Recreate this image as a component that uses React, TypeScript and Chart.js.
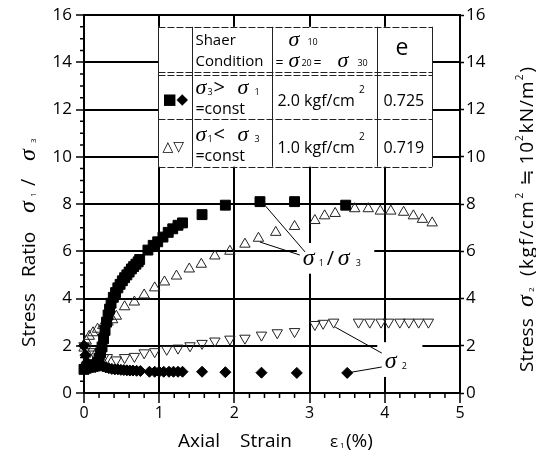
import React, { useEffect, useRef } from "react";
import { Chart, registerables } from "chart.js";

Chart.register(...registerables);

// ---- data ----
// Test 1 (sigma3 > sigma1 = const): stress ratio (filled squares)
const strainSquares = [0.0, 0.03, 0.06, 0.09, 0.12, 0.15, 0.18, 0.2, 0.22, 0.24, 0.26, 0.28, 0.3, 0.32, 0.34, 0.36, 0.39, 0.42, 0.45, 0.48, 0.51, 0.54, 0.57, 0.6, 0.63, 0.66, 0.69, 0.72, 0.74, 0.85, 0.92, 0.98, 1.05, 1.12, 1.18, 1.25, 1.31, 1.57, 1.88, 2.34, 2.8, 3.48];
const ratioSquares = [1.0, 1.05, 1.1, 1.1, 1.15, 1.2, 1.3, 1.45, 1.7, 1.95, 2.3, 2.65, 3.0, 3.3, 3.55, 3.8, 4.05, 4.25, 4.45, 4.6, 4.75, 4.88, 5.0, 5.12, 5.25, 5.35, 5.45, 5.55, 5.65, 6.05, 6.25, 6.4, 6.6, 6.8, 6.95, 7.1, 7.2, 7.55, 7.95, 8.1, 8.1, 7.95];
// Test 1: sigma2 (filled diamonds)
const strainDiamonds = [0.0, 0.02, 0.04, 0.06, 0.09, 0.12, 0.15, 0.18, 0.21, 0.25, 0.29, 0.33, 0.37, 0.41, 0.45, 0.49, 0.53, 0.57, 0.61, 0.65, 0.7, 0.75, 0.87, 0.94, 1.0, 1.06, 1.13, 1.19, 1.25, 1.31, 1.57, 1.88, 2.36, 2.83, 3.5];
const stressDiamonds = [2.0, 1.6, 1.3, 1.15, 1.1, 1.1, 1.1, 1.12, 1.15, 1.12, 1.08, 1.05, 1.02, 1.0, 1.0, 0.98, 0.97, 0.96, 0.95, 0.95, 0.94, 0.93, 0.9, 0.9, 0.9, 0.9, 0.9, 0.9, 0.9, 0.9, 0.9, 0.88, 0.86, 0.85, 0.85];
// Test 2 (sigma1 < sigma3 = const): stress ratio (open up-triangles)
const strainUp = [0.0, 0.03, 0.07, 0.12, 0.18, 0.25, 0.32, 0.38, 0.43, 0.54, 0.67, 0.8, 0.94, 1.07, 1.23, 1.4, 1.56, 1.74, 1.94, 2.14, 2.32, 2.55, 2.8, 3.07, 3.2, 3.34, 3.6, 3.78, 3.94, 4.08, 4.25, 4.38, 4.5, 4.63];
const ratioUp = [1.9, 2.2, 2.4, 2.55, 2.7, 2.85, 3.0, 3.1, 3.25, 3.65, 3.85, 4.15, 4.45, 4.7, 4.95, 5.25, 5.45, 5.8, 6.0, 6.3, 6.55, 6.8, 7.05, 7.3, 7.5, 7.6, 7.8, 7.8, 7.7, 7.7, 7.65, 7.5, 7.35, 7.2];
// Test 2: sigma2 (open down-triangles)
const strainDown = [0.0, 0.03, 0.08, 0.14, 0.2, 0.26, 0.31, 0.43, 0.54, 0.67, 0.8, 0.94, 1.1, 1.25, 1.41, 1.57, 1.74, 1.94, 2.14, 2.36, 2.57, 2.8, 3.07, 3.18, 3.32, 3.65, 3.8, 3.95, 4.05, 4.2, 4.32, 4.45, 4.58];
const stressDown = [2.0, 1.9, 1.75, 1.65, 1.55, 1.5, 1.5, 1.4, 1.5, 1.55, 1.7, 1.75, 1.85, 1.9, 2.0, 2.1, 2.2, 2.28, 2.32, 2.45, 2.55, 2.6, 2.9, 2.95, 3.0, 3.0, 3.0, 3.0, 3.0, 3.0, 3.0, 3.0, 3.0];

const xMin = 0, xMax = 5, xStep = 1;
const yMin = 0, yMax = 16, yStep = 2;

// table contents
const tableHeader = ["", "Shaer|Condition", "σ10|=σ20=σ30", "e"];
const rowSymbols = ["■◆", "△▽"];
const rowConditions = [["3", ">", "1"], ["1", "<", "3"]];
const rowStress = ["2.0 kgf/cm", "1.0 kgf/cm"];
const rowVoid = ["0.725", "0.719"];

// ---- fonts ----
const SANS = (s: number) => `${s}px "Open Sans", "DejaVu Sans", "Noto Sans CJK JP", sans-serif`;
const SIG = (s: number) => `italic ${s}px "Liberation Serif", "DejaVu Serif", serif`;
const SYMF = (s: number) => `${s}px "DejaVu Sans", sans-serif`;

type Piece = [string, string, number, number];

function drawPieces(ctx: CanvasRenderingContext2D, ox: number, oy: number, pieces: Piece[]) {
  for (const [t, f, dx, dy] of pieces) {
    ctx.font = f;
    ctx.fillText(t, ox + dx, oy + dy);
  }
}

const overlay = {
  id: "overlay",
  beforeDraw(chart: any) {
    const ctx = chart.ctx as CanvasRenderingContext2D;
    ctx.save();
    ctx.fillStyle = "#fff";
    ctx.fillRect(0, 0, chart.width, chart.height);
    ctx.restore();
  },
  beforeDatasetsDraw(chart: any) {
    const ctx = chart.ctx as CanvasRenderingContext2D;
    const xs = chart.scales.x, ys = chart.scales.y;
    const { left, bottom } = chart.chartArea;
    const X = (v: number) => xs.getPixelForValue(v);
    const Y = (v: number) => ys.getPixelForValue(v);
    ctx.save();
    // minor ticks
    ctx.strokeStyle = "#000";
    ctx.lineWidth = 1.5;
    ctx.beginPath();
    for (let i = 1; i < 32; i++) {
      if (i % 4 === 0) continue;
      const py = Y(i * 0.5);
      ctx.moveTo(left - 4, py);
      ctx.lineTo(left, py);
    }
    for (let i = 1; i < 25; i++) {
      if (i % 5 === 0) continue;
      const px = X(i * 0.2);
      ctx.moveTo(px, bottom);
      ctx.lineTo(px, bottom + 5);
    }
    ctx.stroke();

    // white boxes behind curve labels
    ctx.fillStyle = "#fff";
    const boxes = [[2.83, 3.86, 5.05, 6.35], [3.9, 4.5, 0.68, 2.15]];
    for (const [x0, x1, y0, y1] of boxes) {
      ctx.fillRect(X(x0), Y(y1), X(x1) - X(x0), Y(y0) - Y(y1));
    }
    // leader lines
    ctx.strokeStyle = "#000";
    ctx.lineWidth = 1;
    const leaders = [
      [2.38, 8.04, 2.94, 5.97],
      [2.34, 6.39, 2.87, 5.84],
      [3.34, 2.79, 3.96, 1.69],
      [3.5, 0.85, 3.96, 1.1],
    ];
    ctx.beginPath();
    for (const [a, b, c, d] of leaders) {
      ctx.moveTo(X(a), Y(b));
      ctx.lineTo(X(c), Y(d));
    }
    ctx.stroke();
    // labels
    ctx.fillStyle = "#000";
    ctx.textBaseline = "alphabetic";
    ctx.textAlign = "left";
    drawPieces(ctx, X(2.91), Y(5.42), [
      ["σ", SIG(24), 0, 0],
      ["1", SANS(9), 16, 1],
      ["/", SANS(20), 24, 0],
      ["σ", SIG(24), 35, 0],
      ["3", SANS(9), 53, 1],
    ]);
    drawPieces(ctx, X(4.0), Y(1.06), [
      ["σ", SIG(24), 0, 0],
      ["2", SANS(9), 17, 1],
    ]);
    ctx.restore();
  },
  afterDraw(chart: any) {
    const ctx = chart.ctx as CanvasRenderingContext2D;
    const xs = chart.scales.x, ys = chart.scales.y;
    const { left, bottom, right } = chart.chartArea;
    const X = (v: number) => xs.getPixelForValue(v);
    const Y = (v: number) => ys.getPixelForValue(v);
    ctx.save();
    ctx.textBaseline = "alphabetic";
    ctx.textAlign = "left";

    // ---- table ----
    const tx0 = X(0.99), tx1 = X(4.63);
    const ty0 = Y(15.5), ty1 = Y(9.58);
    const cols = [tx0, tx0 + 34, tx0 + 114, tx0 + 219, tx1];
    const rows = [ty0, ty0 + 45, ty0 + 92, ty1];
    ctx.fillStyle = "#fff";
    ctx.fillRect(tx0, ty0, tx1 - tx0, ty1 - ty0);
    ctx.strokeStyle = "#222";
    ctx.lineWidth = 1;
    ctx.beginPath();
    for (const c of cols) {
      ctx.moveTo(Math.round(c) + 0.5, ty0);
      ctx.lineTo(Math.round(c) + 0.5, ty1);
    }
    ctx.stroke();
    ctx.setLineDash([7, 2]);
    ctx.beginPath();
    for (const r of [rows[0], rows[1], rows[1] + 3, rows[2], rows[3]]) {
      ctx.moveTo(tx0, Math.round(r) + 0.5);
      ctx.lineTo(tx1, Math.round(r) + 0.5);
    }
    ctx.stroke();
    ctx.setLineDash([]);

    ctx.fillStyle = "#000";
    const c1 = cols[1], c2 = cols[2], c3 = cols[3];
    const [h1a, h1b] = tableHeader[1].split("|");
    drawPieces(ctx, c1 + 3, ty0, [
      [h1a, SANS(15), 0, 18],
      [h1b, SANS(15), 0, 39],
    ]);
    drawPieces(ctx, c2, ty0, [
      ["σ", SIG(22), 16, 19],
      ["10", SANS(9), 35, 18],
      ["=", SANS(14), 3, 40],
      ["σ", SIG(22), 16, 40],
      ["20", SANS(9), 29, 39],
      ["=", SANS(14), 41, 40],
      ["σ", SIG(22), 65, 40],
      ["30", SANS(9), 85, 39],
    ]);
    ctx.font = SANS(23);
    ctx.fillText(tableHeader[3], c3 + 18, ty0 + 28);

    for (let r = 0; r < 2; r++) {
      const base = rows[r + 1];
      ctx.font = SYMF(r === 0 ? 15 : 14);
      ctx.fillText(rowSymbols[r], tx0 + 4, base + 32);
      const [a, op, b] = rowConditions[r];
      drawPieces(ctx, c1 + 3, base, [
        ["σ", SIG(22), 0, 22],
        [a, SANS(9), 12, 23],
        [op, SANS(20), 18, 22],
        ["σ", SIG(22), 42, 22],
        [b, SANS(9), 59, 23],
        ["=const", SANS(16), 0, 42],
      ]);
      ctx.font = SANS(16);
      ctx.fillText(rowStress[r], c2 + 5, base + 34);
      const w = ctx.measureText(rowStress[r]).width;
      ctx.font = SANS(10);
      ctx.fillText("2", c2 + 5 + w + 4, base + 21);
      ctx.font = SANS(16);
      ctx.fillText(rowVoid[r], c3 + 6, base + 34);
    }

    // ---- axis titles ----
    drawPieces(ctx, left, bottom, [
      ["Axial", SANS(19), 94, 54],
      ["Strain", SANS(19), 156, 54],
      ["ε", SANS(17), 246, 54],
      ["1", SANS(8), 256, 55],
      ["(%)", SANS(19), 262, 54],
    ]);

    ctx.save();
    ctx.translate(35, bottom - 46);
    ctx.rotate(-Math.PI / 2);
    drawPieces(ctx, 0, 0, [
      ["Stress", SANS(19), 0, 0],
      ["Ratio", SANS(19), 70, 0],
      ["σ", SIG(24), 134, 0],
      ["1", SANS(8), 150, 1],
      ["/", SANS(20), 161, 0],
      ["σ", SIG(24), 186, 0],
      ["3", SANS(8), 204, 1],
    ]);
    ctx.restore();

    ctx.save();
    ctx.translate(right + 73, bottom - 21);
    ctx.rotate(-Math.PI / 2);
    drawPieces(ctx, 0, 0, [
      ["Stress", SANS(19), 0, 0],
      ["σ", SIG(24), 65, 0],
      ["2", SANS(8), 80, 1],
    ]);
    (ctx as any).letterSpacing = "1.5px";
    ctx.font = SANS(19);
    ctx.fillText("(kgf/cm", 96, 0);
    const w1 = ctx.measureText("(kgf/cm").width;
    (ctx as any).letterSpacing = "0px";
    ctx.font = SANS(10);
    ctx.fillText("2", 96 + w1 + 1, -10);
    ctx.font = SANS(19);
    ctx.fillText("≒", 96 + w1 + 14, 0);
    let cx = 96 + w1 + 14 + ctx.measureText("≒").width + 5;
    (ctx as any).letterSpacing = "1px";
    ctx.fillText("10", cx, 0);
    cx += ctx.measureText("10").width;
    ctx.font = SANS(10);
    ctx.fillText("2", cx, -10);
    cx += ctx.measureText("2").width + 1;
    ctx.font = SANS(19);
    ctx.fillText("kN/m", cx, 0);
    cx += ctx.measureText("kN/m").width;
    ctx.font = SANS(10);
    ctx.fillText("2", cx, -10);
    cx += ctx.measureText("2").width + 1;
    ctx.font = SANS(19);
    ctx.fillText(")", cx, 0);
    (ctx as any).letterSpacing = "0px";
    ctx.restore();

    ctx.restore();
  },
};

export default function App() {
  const ref = useRef<HTMLCanvasElement>(null);
  useEffect(() => {
    const canvas = ref.current!;
    const pts = (xs: number[], ys: number[]) => xs.map((x, i) => ({ x, y: ys[i] }));
    const tickFont = (s: number) => ({ family: '"Open Sans", "DejaVu Sans", sans-serif', size: s });
    const chart = new Chart(canvas, {
      type: "scatter",
      data: {
        datasets: [
          {
            label: "σ1/σ3 (σ3>σ1)",
            data: pts(strainSquares, ratioSquares),
            yAxisID: "y",
            pointStyle: "rect",
            pointRadius: 7,
            backgroundColor: "#000",
            borderColor: "#000",
            borderWidth: 1,
            clip: false,
          },
          {
            label: "σ2 (σ3>σ1)",
            data: pts(strainDiamonds, stressDiamonds),
            yAxisID: "y2",
            pointStyle: "rectRot",
            pointRadius: 5.5,
            backgroundColor: "#000",
            borderColor: "#000",
            borderWidth: 1,
            clip: false,
          },
          {
            label: "σ1/σ3 (σ1<σ3)",
            data: pts(strainUp, ratioUp),
            yAxisID: "y",
            pointStyle: "triangle",
            pointRadius: 6,
            backgroundColor: "rgba(255,255,255,0)",
            borderColor: "#222",
            borderWidth: 1,
            clip: false,
          },
          {
            label: "σ2 (σ1<σ3)",
            data: pts(strainDown, stressDown),
            yAxisID: "y2",
            pointStyle: "triangle",
            rotation: 180,
            pointRadius: 6,
            backgroundColor: "rgba(255,255,255,0)",
            borderColor: "#222",
            borderWidth: 1,
            clip: false,
          } as any,
        ],
      },
      options: {
        responsive: false,
        animation: false,
        devicePixelRatio: 1,
        layout: { padding: { top: 15, left: 0, right: 0, bottom: 0 } },
        plugins: { legend: { display: false }, tooltip: { enabled: false } },
        scales: {
          x: {
            type: "linear",
            min: xMin,
            max: xMax,
            ticks: { stepSize: xStep, color: "#000", font: tickFont(16), padding: 1, maxRotation: 0 },
            grid: { color: "#000", lineWidth: 2, tickLength: 10, tickWidth: 1.5, tickColor: "#000" },
            border: { color: "#000", width: 2 },
            afterFit: (s: any) => { s.height = 68; },
          },
          y: {
            type: "linear",
            position: "left",
            min: yMin,
            max: yMax,
            ticks: { stepSize: yStep, color: "#000", font: tickFont(17), padding: 4 },
            grid: { color: "#000", lineWidth: 2, tickLength: 8, tickWidth: 1.5, tickColor: "#000" },
            border: { color: "#000", width: 2 },
            afterFit: (s: any) => { s.width = 84; },
          },
          y2: {
            type: "linear",
            position: "right",
            min: yMin,
            max: yMax,
            ticks: { stepSize: yStep, color: "#000", font: tickFont(17), padding: 2 },
            grid: { drawOnChartArea: false, color: "#000", tickLength: 4, tickWidth: 1.5, tickColor: "#000" },
            border: { color: "#000", width: 2 },
            afterFit: (s: any) => { s.width = 76; },
          },
        },
      } as any,
      plugins: [overlay as any],
    });
    return () => chart.destroy();
  }, []);
  return (
    <div style={{ position: "absolute", left: 0, top: 0, width: 536, height: 461, background: "#fff" }}>
      <canvas ref={ref} width={536} height={461} style={{ display: "block", width: 536, height: 461 }} />
    </div>
  );
}
